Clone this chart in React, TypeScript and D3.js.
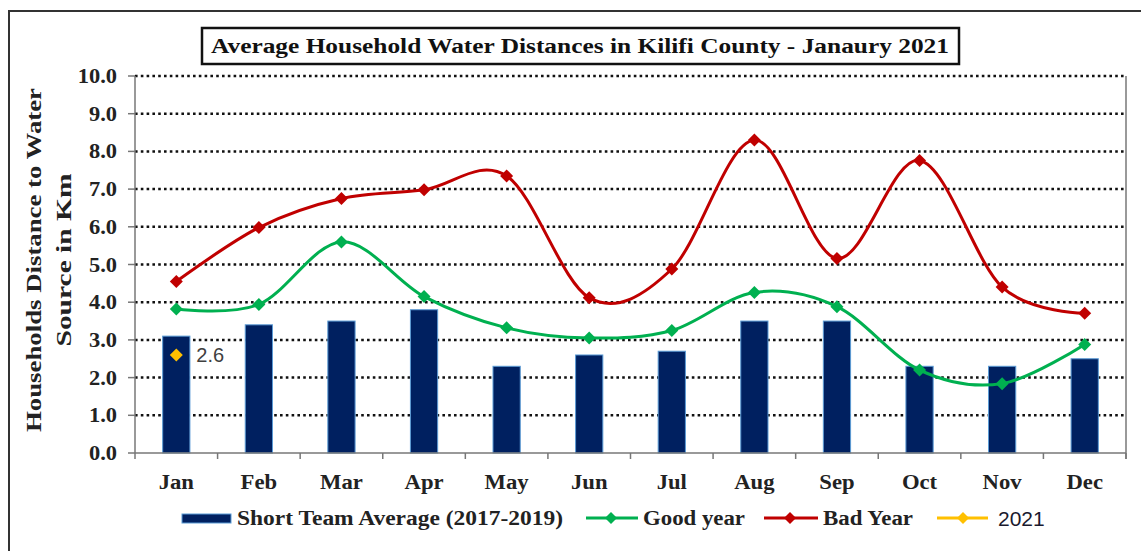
import React from "react";
import * as d3 from "d3";

const months = ["Jan", "Feb", "Mar", "Apr", "May", "Jun", "Jul", "Aug", "Sep", "Oct", "Nov", "Dec"];
const shortTermAvg = [3.1, 3.4, 3.5, 3.8, 2.3, 2.6, 2.7, 3.5, 3.5, 2.3, 2.3, 2.5];
const goodYear = [3.82, 3.94, 5.6, 4.15, 3.32, 3.05, 3.25, 4.26, 3.88, 2.2, 1.84, 2.88];
const badYear = [4.55, 5.98, 6.75, 6.98, 7.35, 4.12, 4.88, 8.3, 5.16, 7.76, 4.4, 3.71];
const year2021 = [{ month: "Jan", value: 2.6 }];
const yTicks = [0, 1, 2, 3, 4, 5, 6, 7, 8, 9, 10];

const W = 1141;
const H = 551;
const left = 135;
const right = 1126;
const top = 76;
const bottom = 453;

const SERIF = "'Liberation Serif', 'Times New Roman', serif";
const SANS = "'Liberation Sans', Arial, sans-serif";

const NAVY = "#002060";
const GREEN = "#00b050";
const RED = "#c00000";
const YELLOW = "#ffc000";

function diamond(cx: number, cy: number, r: number) {
  return `M${cx},${cy - r}L${cx + r},${cy}L${cx},${cy + r}L${cx - r},${cy}Z`;
}

export default function App() {
  const x = d3.scaleBand<string>().domain(months).range([left, right]).paddingInner(0).paddingOuter(0);
  const y = d3.scaleLinear().domain([0, 10]).range([bottom, top]);
  const bw = x.bandwidth();
  const barW = bw * 0.33;
  const cx = (m: string) => (x(m) as number) + bw / 2;

  const line = d3
    .line<number>()
    .x((_, i) => cx(months[i]))
    .y((d) => y(d))
    .curve(d3.curveCardinal.tension(0));

  const boundaries = months.map((m) => x(m) as number).concat([right]);

  return (
    <svg width={W} height={H} style={{ position: "absolute", left: 0, top: 0, background: "#fff" }}>
      <rect x={0} y={0} width={W} height={H} fill="#fff" />
      {/* outer border */}
      <rect x={9} y={11} width={W + 20} height={H + 20} fill="none" stroke="#333" strokeWidth={2} />
      {/* title */}
      <rect x={202} y={28} width={757} height={36} fill="#fff" stroke="#111" strokeWidth={2.5} />
      <text
        x={580}
        y={53}
        textAnchor="middle"
        fontFamily={SERIF}
        fontWeight="bold"
        fontSize={20}
        fill="#111"
        textLength={738}
        lengthAdjust="spacingAndGlyphs"
      >
        Average Household Water Distances in Kilifi County - Janaury 2021
      </text>

      {/* gridlines */}
      {yTicks.map((t) => (
        <g key={t}>
          {t > 0 && (
            <line x1={left} x2={right} y1={y(t)} y2={y(t)} stroke="#111" strokeWidth={2.5} strokeDasharray="2.6,3.2" />
          )}
          <line x1={128} x2={left} y1={y(t)} y2={y(t)} stroke="#777" strokeWidth={1.5} />
          <text
            transform={`translate(117,${y(t) + 7}) scale(1.07,1)`}
            textAnchor="end"
            fontFamily={SERIF}
            fontWeight="bold"
            fontSize={21}
            fill="#222"
          >
            {t.toFixed(1)}
          </text>
        </g>
      ))}

      {/* bars */}
      {months.map((m, i) => (
        <rect
          key={m}
          x={cx(m) - barW / 2}
          y={y(shortTermAvg[i])}
          width={barW}
          height={bottom - y(shortTermAvg[i])}
          fill={NAVY}
          stroke="#5b9bd5"
          strokeWidth={1}
        />
      ))}

      {/* axes */}
      <line x1={left} x2={left} y1={top} y2={bottom} stroke="#777" strokeWidth={1.5} />
      <line x1={right} x2={right} y1={top} y2={bottom + 6} stroke="#777" strokeWidth={1.5} />
      <line x1={left} x2={right} y1={bottom} y2={bottom} stroke="#777" strokeWidth={1.5} />
      {boundaries.map((b, i) => (
        <line key={i} x1={b} x2={b} y1={bottom} y2={bottom + 6} stroke="#777" strokeWidth={1.5} />
      ))}
      {months.map((m) => (
        <text
          key={m}
          transform={`translate(${cx(m)},489) scale(1.08,1)`}
          textAnchor="middle"
          fontFamily={SERIF}
          fontWeight="bold"
          fontSize={21}
          fill="#222"
        >
          {m}
        </text>
      ))}

      {/* lines */}
      <path d={line(goodYear) || ""} fill="none" stroke={GREEN} strokeWidth={3} />
      <path d={line(badYear) || ""} fill="none" stroke={RED} strokeWidth={3} />
      {goodYear.map((v, i) => (
        <path key={"g" + i} d={diamond(cx(months[i]), y(v), 6.5)} fill={GREEN} />
      ))}
      {badYear.map((v, i) => (
        <path key={"b" + i} d={diamond(cx(months[i]), y(v), 6.5)} fill={RED} />
      ))}
      {year2021.map((d) => (
        <g key={d.month}>
          <path d={diamond(cx(d.month), y(d.value), 6.5)} fill={YELLOW} />
          <text x={cx(d.month) + 20} y={y(d.value) + 7} fontFamily={SANS} fontSize={20} fill="#404040">
            {d.value.toFixed(1)}
          </text>
        </g>
      ))}

      {/* y axis title */}
      <g transform="translate(41,260) rotate(-90)">
        <text
          x={0}
          y={0}
          textAnchor="middle"
          fontFamily={SERIF}
          fontWeight="bold"
          fontSize={22}
          fill="#222"
          textLength={344}
          lengthAdjust="spacingAndGlyphs"
        >
          Households Distance to Water
        </text>
        <text
          x={0}
          y={30}
          textAnchor="middle"
          fontFamily={SERIF}
          fontWeight="bold"
          fontSize={22}
          fill="#222"
          textLength={173}
          lengthAdjust="spacingAndGlyphs"
        >
          Source in Km
        </text>
      </g>

      {/* legend */}
      <rect x={182} y={514} width={49} height={9} fill={NAVY} stroke="#5b9bd5" strokeWidth={1} />
      <text x={237} y={525} fontFamily={SERIF} fontWeight="bold" fontSize={20} fill="#222" textLength={326} lengthAdjust="spacingAndGlyphs">
        Short Team Average  (2017-2019)
      </text>
      <line x1={586} x2={638} y1={518} y2={518} stroke={GREEN} strokeWidth={3} />
      <path d={diamond(611, 518, 6)} fill={GREEN} />
      <text x={643} y={525} fontFamily={SERIF} fontWeight="bold" fontSize={20} fill="#222" textLength={102} lengthAdjust="spacingAndGlyphs">
        Good year
      </text>
      <line x1={764} x2={818} y1={518} y2={518} stroke={RED} strokeWidth={3} />
      <path d={diamond(790, 518, 6)} fill={RED} />
      <text x={823} y={525} fontFamily={SERIF} fontWeight="bold" fontSize={20} fill="#222" textLength={90} lengthAdjust="spacingAndGlyphs">
        Bad Year
      </text>
      <line x1={937} x2={988} y1={518} y2={518} stroke={YELLOW} strokeWidth={3} />
      <path d={diamond(963, 518, 6)} fill={YELLOW} />
      <text x={998} y={526} fontFamily={SANS} fontSize={21} fill="#1a1a2e">
        2021
      </text>
    </svg>
  );
}
